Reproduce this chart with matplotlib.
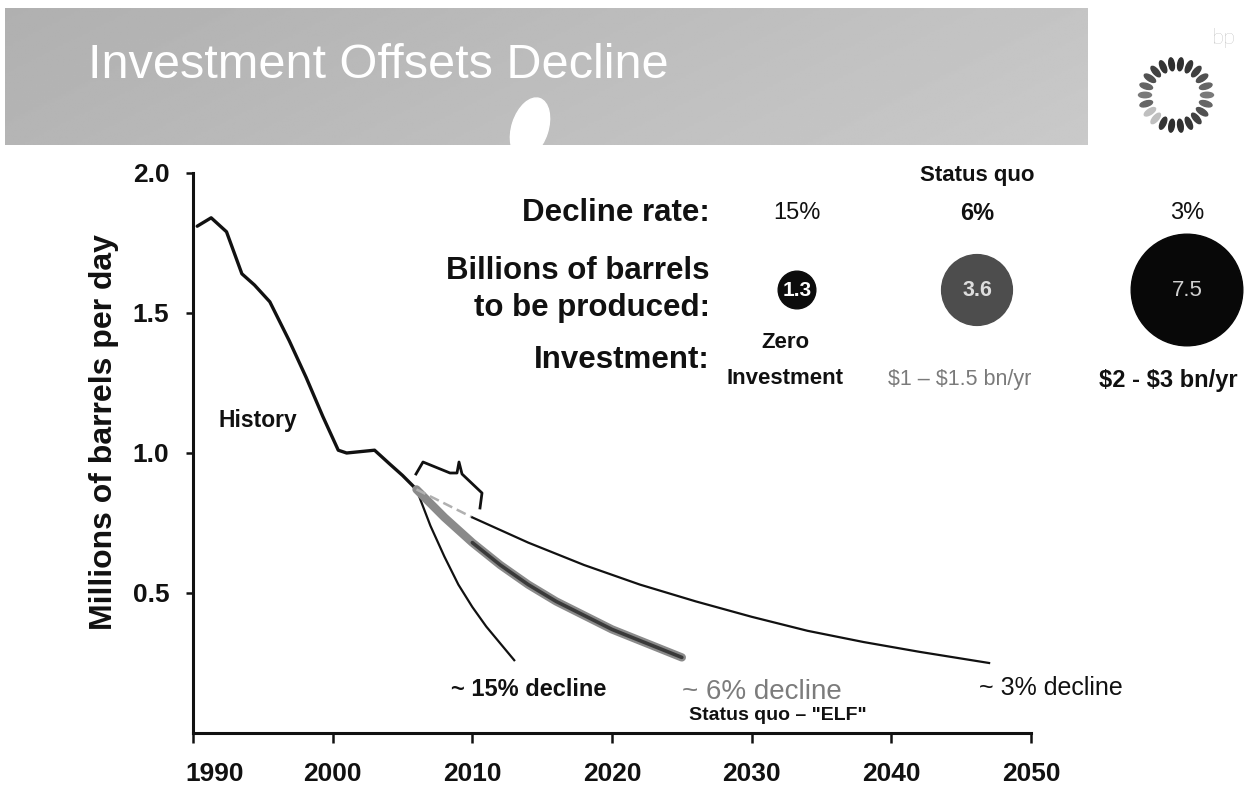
import numpy as np
import matplotlib
matplotlib.use("Agg")
import matplotlib.pyplot as plt
from matplotlib import patches, transforms

plt.rcParams['font.family'] = ['Liberation Sans', 'DejaVu Sans']

# Field production history (millions of barrels per day)
hist_years = [1990.3, 1991.3, 1992.4, 1993.5, 1994.4, 1995.5, 1996.9, 1998.1,
              1999.3, 2000.4, 2001.0, 2003.0, 2004.1, 2005.0, 2006.0]
hist_vals = [1.81, 1.84, 1.79, 1.64, 1.60, 1.54, 1.40, 1.27,
             1.13, 1.01, 1.00, 1.01, 0.96, 0.92, 0.87]

# Forecast cases by annual decline rate
dec15_years = [2006, 2007, 2008, 2009, 2010, 2011, 2012, 2013]
dec15_vals = [0.87, 0.74, 0.63, 0.53, 0.45, 0.38, 0.32, 0.26]

dec6_years = [2006, 2008, 2010, 2012, 2014, 2016, 2018, 2020, 2022, 2025]
dec6_vals = [0.87, 0.77, 0.68, 0.60, 0.53, 0.47, 0.42, 0.37, 0.33, 0.27]

dec3_years = [2006, 2008, 2010, 2014, 2018, 2022, 2026, 2030, 2034, 2038, 2042, 2047]
dec3_vals = [0.87, 0.82, 0.77, 0.68, 0.60, 0.53, 0.47, 0.415, 0.365, 0.325, 0.29, 0.25]

# Scenario summary
rates = ["15%", "6%", "3%"]
barrels = [1.3, 3.6, 7.5]
investment = ["Zero\nInvestment", "$1 \u2013 $1.5 bn/yr", "$2 - $3 bn/yr"]

x_ticks = [1990, 2000, 2010, 2020, 2030, 2040, 2050]
y_ticks = [0.5, 1.0, 1.5, 2.0]

W, H = 1250, 795
fig = plt.figure(figsize=(W / 100, H / 100), dpi=100)
fig.patch.set_facecolor('white')

# ---- main chart ----
ax = fig.add_axes([193 / W, 1 - 733 / H, 838 / W, 560 / H])
ax.set_xlim(1990, 2050)
ax.set_ylim(0, 2.0)
for side in ('top', 'right'):
    ax.spines[side].set_visible(False)
for side in ('left', 'bottom'):
    ax.spines[side].set_linewidth(2.2)
    ax.spines[side].set_color('#111111')
ax.set_xticks(x_ticks)
ax.set_xticklabels([str(t) for t in x_ticks])
ax.set_yticks(y_ticks)
ax.set_yticklabels([f"{t:.1f}" for t in y_ticks])
ax.tick_params(axis='x', direction='out', length=7, width=1.8, pad=14,
               labelsize=19, colors='#111111')
ax.tick_params(axis='y', direction='out', length=5, width=1.8, pad=12,
               labelsize=19, colors='#111111')
for lab in ax.get_xticklabels() + ax.get_yticklabels():
    lab.set_fontweight('bold')
first = ax.get_xticklabels()[0]
first.set_transform(first.get_transform() +
                    transforms.ScaledTranslation(0.22, 0, fig.dpi_scale_trans))
ax.set_ylabel("Millions of barrels per day", fontsize=23, fontweight='bold',
              color='#111111')
ax.yaxis.set_label_coords(-0.088, 0.537)
ax.patch.set_alpha(0)

ax.plot(hist_years, hist_vals, color='#111111', lw=2.4, solid_capstyle='round',
        solid_joinstyle='round')
ax.plot(dec15_years, dec15_vals, color='#111111', lw=1.6)
# status-quo case: thick grey band with a darker core
ax.plot(dec6_years, dec6_vals, color='#8a8a8a', lw=6.0, solid_capstyle='round')
ax.plot(dec6_years[2:], dec6_vals[2:], color='#3a3a3a', lw=2.6, solid_capstyle='round')
ax.plot(dec3_years[:3], dec3_vals[:3], color='#b0b0b0', lw=1.8, ls=(0, (4, 2)))
ax.plot(dec3_years[2:], dec3_vals[2:], color='#111111', lw=1.6)

# ---- overlay in pixel coordinates for banner, logo and annotations ----
top = fig.add_axes([0, 0, 1, 1], zorder=5)
top.set_xlim(0, W)
top.set_ylim(H, 0)
top.axis('off')
top.patch.set_alpha(0)


def label(x, y, s, **kw):
    kw.setdefault('ha', 'center')
    kw.setdefault('va', 'center')
    kw.setdefault('color', '#111111')
    top.text(x, y, s, parse_math=False, **kw)


# title banner with soft grey gradient
gx = np.linspace(0, 1, 400)
gy = np.linspace(0, 1, 60)
grad = 0.69 + 0.08 * gx[None, :] + 0.02 * gy[:, None]
top.imshow(grad, cmap='gray', vmin=0, vmax=1, extent=(5, 1088, 145, 8),
           aspect='auto', zorder=1)
top.add_patch(patches.Ellipse((530, 128), 36, 62, angle=18, color='white', zorder=2))
label(88, 66, "Investment Offsets Decline", fontsize=35, color='white',
      ha='left', zorder=3)

# bp mark
label(1224, 38, "bp", fontsize=16, color='#9a9a9a',
      fontfamily=['Lato', 'Liberation Sans'], fontweight='light')
cx, cy, rr = 1176, 95, 31
n_pet = 22
for i in range(n_pet):
    ang = 2 * np.pi * i / n_pet
    px = cx + rr * np.cos(ang)
    py = cy - rr * np.sin(ang)
    s = abs(np.sin(ang))
    shade = 0.18 + 0.30 * (1 - s)
    if 3.6 < ang < 4.1:
        shade = 0.75
    top.add_patch(patches.Ellipse((px, py), 13, 5.5,
                                  angle=-np.degrees(ang), color=str(shade), zorder=3))

# scenario summary block
col_x = [797, 977, 1187]
row_rate, row_bbl, row_inv = 213, 290, 360
lab_fs = 22.5
label(710, row_rate, "Decline rate:", fontsize=lab_fs, fontweight='bold', ha='right')
label(710, 271, "Billions of barrels", fontsize=lab_fs, fontweight='bold', ha='right')
label(710, 308, "to be produced:", fontsize=lab_fs, fontweight='bold', ha='right')
label(710, row_inv, "Investment:", fontsize=lab_fs, fontweight='bold', ha='right')
label(col_x[1], 176, "Status quo", fontsize=16, fontweight='bold')

rate_w = ['normal', 'bold', 'normal']
for x, r, w in zip(col_x, rates, rate_w):
    label(x, row_rate, r, fontsize=17, fontweight=w)

fills = ['#0c0c0c', '#4d4d4d', '#080808']
txtc = ['white', '#dddddd', '#cfcfcf']
txtw = ['bold', 'bold', 'normal']
txts = [15, 15.5, 16]
for x, b, fc, tc, tw, ts in zip(col_x, barrels, fills, txtc, txtw, txts):
    rad = 16.0 * b ** 0.62
    top.add_patch(patches.Circle((x, row_bbl), rad, color=fc, zorder=3))
    label(x, row_bbl, f"{b:.1f}", fontsize=ts, color=tc, fontweight=tw, zorder=4)

zero_l1, zero_l2 = investment[0].split("\n")
label(785, 343, zero_l1, fontsize=16, fontweight='bold')
label(785, 378, zero_l2, fontsize=16, fontweight='bold')
label(960, 380, investment[1], fontsize=15.5, color='#7a7a7a')
label(1168, 380, investment[2], fontsize=17, fontweight='bold')

# curve labels
label(258, 420, "History", fontsize=16.5, fontweight='bold')
label(529, 689, "~ 15% decline", fontsize=17, fontweight='bold')
label(762, 692, "~ 6% decline", fontsize=20, color='#7c7c7c')
label(778, 716, "Status quo \u2013 \"ELF\"", fontsize=14, fontweight='bold')
label(1051, 688, "~ 3% decline", fontsize=18)

# brace marking the near-term spread between cases
brace_x = [416, 423, 450, 457, 459, 462, 482, 480]
brace_y = [474, 462, 473, 473, 462, 474, 493, 508]
top.plot(brace_x, brace_y, color='#111111', lw=2.0, solid_joinstyle='round')

fig.savefig("out.png", dpi=100)
